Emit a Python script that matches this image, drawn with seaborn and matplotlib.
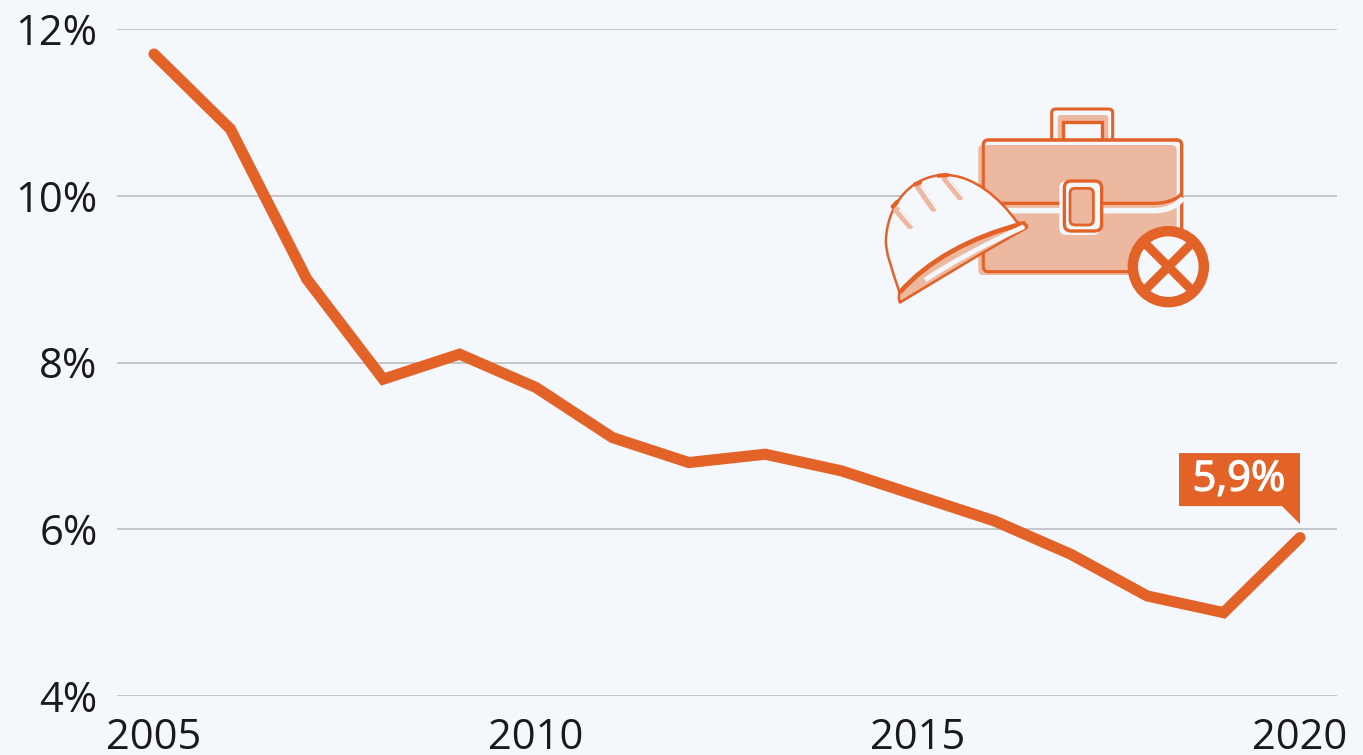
import pandas as pd
import seaborn as sns
import matplotlib.pyplot as plt
import matplotlib.patheffects as pe
from matplotlib.patches import FancyBboxPatch, PathPatch, Circle, Polygon
from matplotlib.path import Path
from matplotlib.transforms import Affine2D

# Data
years = list(range(2005, 2021))
rates = [11.7, 10.8, 9.0, 7.8, 8.1, 7.7, 7.1, 6.8, 6.9, 6.7, 6.4, 6.1, 5.7, 5.2, 5.0, 5.9]
y_ticks = [4, 6, 8, 10, 12]
y_labels = ["4%", "6%", "8%", "10%", "12%"]
x_ticks = [2005, 2010, 2015, 2020]
last_label = "5,9%"

BG = "#f4f7fb"
ORANGE = "#e36228"
LIGHT = "#edb8a0"
GRID = "#bfc3c8"
W, H = 1363, 755

sns.set_style("white")
plt.rcParams["font.family"] = ["Open Sans", "DejaVu Sans"]

df = pd.DataFrame({"year": years, "rate": rates})

fig = plt.figure(figsize=(W / 100, H / 100), dpi=100, facecolor=BG)
ax = fig.add_axes([117 / W, 1 - 696 / H, (1337 - 117) / W, (696 - 29) / H], facecolor=BG)

# Grid behind everything
ax.set_yticks(y_ticks)
ax.set_yticklabels(y_labels)
ax.set_xticks(x_ticks)
ax.set_xticklabels([str(x) for x in x_ticks])
ax.grid(axis="y", color=GRID, lw=1.3, zorder=0)
ax.grid(axis="x", visible=False)

sns.lineplot(data=df, x="year", y="rate", color=ORANGE, lw=8, ax=ax, zorder=5,
             solid_capstyle="round", solid_joinstyle="miter", clip_on=False)

ax.set_xlim(2005 - 37 / 76.4, 2020 + 37 / 76.4)
ax.set_ylim(4, 12)
ax.set_xlabel("")
ax.set_ylabel("")
sns.despine(ax=ax, left=True, bottom=True, top=True, right=True)
ax.tick_params(axis="both", length=0, labelsize=30, colors="#1a1a1a")
ax.tick_params(axis="x", pad=15)
ax.tick_params(axis="y", pad=14)

# Callout for the last value, offset in pixels from the last point
anchor = ax.transData.transform((years[-1], rates[-1]))
callout = Polygon([(-121, -84.5), (0, -84.5), (0, -13.5), (-18, -31.5), (-121, -31.5)],
                  closed=True, fc=ORANGE, ec="none", zorder=6, clip_on=False,
                  transform=Affine2D().scale(1, -1).translate(*anchor))
ax.add_artist(callout)
ax.annotate(last_label, (years[-1], rates[-1]), xytext=(-61, 58), textcoords="offset pixels",
            color="white", fontsize=30, ha="center", va="center", zorder=7, annotation_clip=False,
            path_effects=[pe.withStroke(linewidth=0.9, foreground="white")])

# Icon on a pixel-coordinate overlay (zoomed-crop coordinates / 3 + crop origin)
ov = fig.add_axes([0, 0, 1, 1], facecolor="none")
ov.set_xlim(0, W)
ov.set_ylim(H, 0)
ov.axis("off")


def zx(v):
    return 870 + v / 3


def zy(v):
    return 95 + v / 3


def rbox(x0, y0, x1, y1, rad, **kw):
    ov.add_patch(FancyBboxPatch((zx(x0) + rad, zy(y0) + rad), (x1 - x0) / 3 - 2 * rad, (y1 - y0) / 3 - 2 * rad,
                                boxstyle=f"round,pad={rad}", **kw))


def curve(points, codes, **kw):
    ov.add_patch(PathPatch(Path([(zx(a), zy(b)) for a, b in points], codes), **kw))


M, L, C, Z = Path.MOVETO, Path.LINETO, Path.CURVE4, Path.CLOSEPOLY

# handle
rbox(545, 42, 728, 160, 4, fc=BG, ec=ORANGE, lw=2.2)
rbox(563, 60, 715, 150, 3, fc=LIGHT, ec="none")
ov.fill([zx(v) for v in (578, 695, 695, 578)], [zy(v) for v in (82, 82, 138, 138)], fc=BG, ec=ORANGE, lw=2.4)

# case body
rbox(340, 135, 935, 530, 5, fc=BG, ec=ORANGE, lw=2.2)
rbox(325, 150, 920, 540, 5, fc=LIGHT, ec="none")
rbox(340, 135, 935, 530, 5, fc="none", ec=ORANGE, lw=2.2)

# flap line
curve([(340, 347), (850, 347), (895, 347), (925, 330), (938, 308)], [M, L, C, C, C],
      fc="none", ec=BG, lw=4)
curve([(340, 325), (850, 325), (895, 325), (925, 310), (935, 295)], [M, L, C, C, C],
      fc="none", ec=ORANGE, lw=2.4)

# clasp
rbox(568, 258, 690, 420, 7, fc=BG, ec="none")
rbox(583, 258, 695, 408, 7, fc=BG, ec=ORANGE, lw=2.4)
rbox(600, 280, 670, 390, 5, fc=LIGHT, ec=ORANGE, lw=2)

# helmet dome
dome = [(88, 590), (65, 520), (45, 470), (48, 430), (55, 320), (130, 240), (225, 240),
        (310, 240), (390, 310), (440, 380), (470, 392), (90, 622), (90, 622)]
curve(dome, [M, C, C, C, C, C, C, C, C, C, L, L, Z], fc=BG, ec=ORANGE, lw=1.8, joinstyle="round")

# helmet stripes and ribs
for a, b in [((80, 345), (120, 392)), ((145, 275), (190, 340)), ((225, 250), (270, 306))]:
    ov.plot([zx(a[0]), zx(b[0])], [zy(a[1]), zy(b[1])], color=LIGHT, lw=5)
    ov.plot([zx(a[0]) + 3, zx(b[0]) + 3], [zy(a[1]), zy(b[1])], color=BG, lw=1.4)
for a, b in [((68, 335), (82, 320)), ((135, 268), (150, 262)), ((205, 242), (232, 240))]:
    ov.plot([zx(a[0]), zx(b[0])], [zy(a[1]), zy(b[1])], color=ORANGE, lw=3)

# helmet brim
brim = [(90, 622), (85, 610), (86, 600), (90, 590), (170, 500), (300, 425), (468, 388),
        (472, 392), (472, 396), (468, 400), (340, 470), (210, 550), (90, 622), (90, 622)]
curve(brim, [M, C, C, C, C, C, C, C, C, C, C, C, C, Z], fc=LIGHT, ec=ORANGE, lw=1.8, joinstyle="round")
curve([(90, 592), (170, 500), (300, 425), (466, 384)], [M, C, C, C], fc="none", ec=ORANGE, lw=3.4)
curve([(165, 555), (240, 505), (340, 450), (462, 395)], [M, C, C, C], fc="none", ec=BG, lw=3.5)

# crossed circle
ov.add_patch(Circle((zx(895), zy(515)), 35.5, fc=BG, ec=ORANGE, lw=7.5, zorder=4))
for a, b in [((825, 445), (965, 585)), ((965, 445), (825, 585))]:
    ov.plot([zx(a[0]), zx(b[0])], [zy(a[1]), zy(b[1])], color=ORANGE, lw=6.5, zorder=5, solid_capstyle="butt")

fig.savefig("out.png", dpi=100, facecolor=BG)
